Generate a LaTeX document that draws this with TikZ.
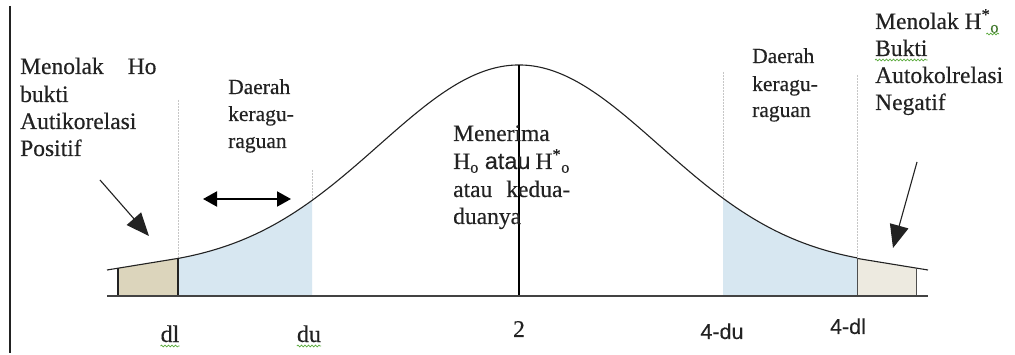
\documentclass[tikz,border=0pt]{standalone}
\usepackage{fontspec}
\setmainfont{Liberation Serif}[FakeBold=0.35]
\setsansfont{Liberation Sans}[FakeBold=0.2]
\usetikzlibrary{arrows.meta,decorations.pathmorphing}
\definecolor{tailfill}{HTML}{DCD5BC}
\definecolor{tailfillR}{HTML}{EDEAE0}
\definecolor{doubtfill}{HTML}{D7E7F1}
\definecolor{inkc}{HTML}{222222}
\definecolor{wavec}{HTML}{5AAA3C}
\begin{document}
\begin{tikzpicture}[x=1pt,y=-1pt,
  txt/.style={inner sep=0pt, anchor=base west, text=inkc, font=\fontsize{23.5}{27}\selectfont},
  smalltxt/.style={inner sep=0pt, anchor=base west, text=inkc, font=\fontsize{21.5}{25}\selectfont},
  tick/.style={inner sep=0pt, anchor=base, text=inkc, font=\fontsize{24}{28}\selectfont},
  sticktick/.style={inner sep=0pt, anchor=base, text=inkc, font=\sffamily\fontsize{21.5}{25}\selectfont},
  curve/.style={line width=1.1pt, draw=inkc},
  guide/.style={draw=gray!45, line width=0.5pt, densely dotted},
  pointer/.style={line width=1.1pt, draw=inkc, -{Triangle[length=23pt,width=19pt]}},
  twoway/.style={line width=2pt, draw=black, {Triangle[length=14pt,width=15pt]}-{Triangle[length=14pt,width=15pt]}},
  spell/.style={draw=wavec, line width=0.7pt, decorate, decoration={snake, amplitude=0.9pt, segment length=3.5pt}}
]
\useasboundingbox (0,0) rectangle (1015,355);
\fill[white] (0,0) rectangle (1015,355);

% frame line at the left
\coordinate (frameT) at (10,6);
\coordinate (frameB) at (10,353);
\draw[line width=1.3pt, draw=inkc] (frameT) -- (frameB);

% key points
\coordinate (axL) at (107,296);
\coordinate (axR) at (928,296);
\coordinate (dlB) at (178,296);
\coordinate (dlT) at (178,258.4);
\coordinate (duB) at (312,296);
\coordinate (duT) at (312,200);
\coordinate (mB) at (519,296);
\coordinate (mT) at (519,65);
\coordinate (udB) at (723,296);
\coordinate (udT) at (723,200);
\coordinate (ldB) at (857,296);
\coordinate (ldT) at (857,258.4);
\coordinate (tailL) at (107,270);
\coordinate (tailR) at (928,270);
\coordinate (boxL) at (118,268);
\coordinate (boxLB) at (118,296);
\coordinate (boxR) at (916,268);
\coordinate (boxRB) at (916,296);

% shaded regions
\fill[tailfill] (boxLB) -- (boxL) -- (dlT) -- (dlB) -- cycle;
\fill[tailfillR] (ldB) -- (ldT) -- (boxR) -- (boxRB) -- cycle;
\fill[doubtfill] (dlB) -- plot[domain=178:312, samples=60] (\x, {296-(27+204*exp(-((\x-519)/100)^2/3.929))}) -- (duB) -- cycle;
\fill[doubtfill] (udB) -- plot[domain=723:857, samples=60] (\x, {296-(27+204*exp(-((\x-519)/100)^2/3.929))}) -- (ldB) -- cycle;

% faint guide lines
\coordinate (g1) at (178,100);
\coordinate (g2) at (312,170);
\coordinate (g3) at (723,72);
\coordinate (g4) at (857,75);
\draw[guide] (g1) -- (dlT);
\draw[guide] (g2) -- (duT);
\draw[guide] (g3) -- (udT);
\draw[guide] (g4) -- (ldT);

% bell curve
\draw[curve] plot[domain=178:857, samples=200] (\x, {296-(27+204*exp(-((\x-519)/100)^2/3.929))});
\draw[curve] (tailL) -- (dlT);
\draw[curve] (ldT) -- (tailR);

% tail boxes
\draw[line width=1.1pt, draw=inkc] (boxLB) -- (boxL);
\draw[line width=1.1pt, draw=inkc] (dlB) -- (dlT);
\draw[line width=0.7pt, draw=inkc!80] (ldB) -- (ldT);
\draw[line width=0.7pt, draw=inkc!80] (boxRB) -- (boxR);

% centre line and axis
\draw[line width=1.4pt, draw=black] (mB) -- (mT);
\draw[line width=1.8pt, draw=inkc!85] (axL) -- (axR);

% arrows
\coordinate (pL0) at (100,180);
\coordinate (pL1) at (149,236);
\draw[pointer] (pL0) -- (pL1);
\coordinate (pR0) at (917,162);
\coordinate (pR1) at (893,248);
\draw[pointer] (pR0) -- (pR1);
\coordinate (dA) at (203,199);
\coordinate (dB) at (291,199);
\draw[twoway] (dA) -- (dB);

% left text
\node[txt] (l1) at (20,74) {Menolak\hspace{24pt}Ho};
\node[txt] (l2) at (20,102) {bukti};
\node[txt] (l3) at (20,129) {Autikorelasi};
\node[txt] (l4) at (20,156) {Positif};

% left doubt text
\node[smalltxt] (d1) at (228,94) {Daerah};
\node[smalltxt] (d2) at (228,121) {keragu-};
\node[smalltxt] (d3) at (228,148) {raguan};

% centre text
\node[txt] (c1) at (453,141) {Menerima};
\node[txt] (c2) at (453,169) {H\textsubscript{o} {\sffamily atau}\hspace{5pt}H\textsuperscript{*}\textsubscript{o}};
\node[txt] (c3) at (453,197) {atau\hspace{14pt}kedua-};
\node[txt] (c4) at (453,224) {duanya};

% right doubt text
\node[smalltxt] (e1) at (752,63) {Daerah};
\node[smalltxt] (e2) at (752,91) {keragu-};
\node[smalltxt] (e3) at (752,117) {raguan};

% right text
\node[txt] (r1) at (875,29) {Menolak H\textsuperscript{*}\textsubscript{\color{wavec!70!black}o}};
\node[txt] (r2) at (875,56) {Bukti};
\node[txt] (r3) at (875,83) {Autokolrelasi};
\node[txt] (r4) at (875,110) {Negatif};

% axis labels
\node[tick] (tdl) at (170,342) {dl};
\node[tick] (tdu) at (309,342) {du};
\node[tick] (t2) at (519,337) {2};
\node[sticktick] (tudu) at (722,339) {4-du};
\node[sticktick] (tudl) at (848,334) {4-dl};

% spell-check underlines
\draw[spell] ([yshift=-4pt]tdl.base west) -- ([yshift=-4pt]tdl.base east);
\draw[spell] ([yshift=-4pt]tdu.base west) -- ([yshift=-4pt]tdu.base east);
\draw[spell] ([yshift=-4pt]r2.base west) -- ([yshift=-4pt]r2.base east);
\draw[spell] ([yshift=-5pt,xshift=-13pt]r1.base east) -- ([yshift=-5pt]r1.base east);
\end{tikzpicture}
\end{document}
